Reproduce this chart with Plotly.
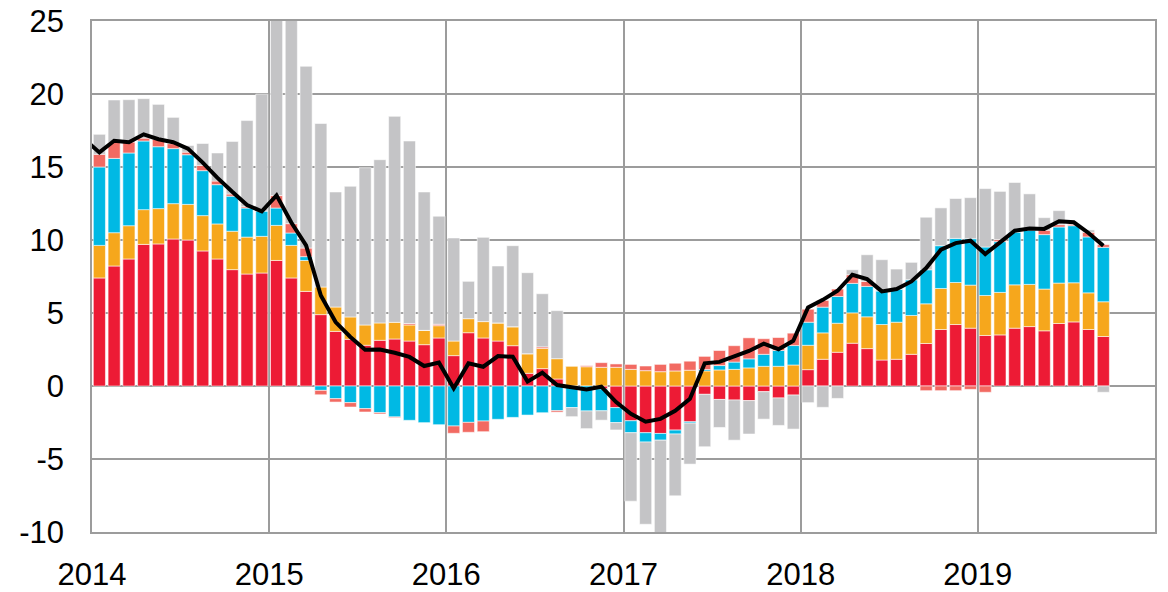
import plotly.graph_objects as go

years = ["2014", "2015", "2016", "2017", "2018", "2019"]

red = [7.4, 8.22, 8.7, 9.7, 9.73, 10.07, 10.0, 9.25, 8.7, 7.97, 7.67, 7.74,
       8.6, 7.4, 6.48, 4.89, 3.74, 3.2, 2.79, 3.13, 3.22, 3.08, 2.83, 3.29,
       2.08, 3.65, 3.29, 3.08, 2.76, 0.87, 1.19, 0.48, 0, 0, -0.2, -1.48,
       -2.38, -3.2, -3.25, -3.02, -2.45, -0.57, -0.92, -0.96, -1.0, -0.39, -0.82, -0.62,
       1.12, 1.83, 2.31, 2.93, 2.56, 1.78, 1.83, 2.17, 2.91, 3.87, 4.21, 3.96,
       3.46, 3.5, 3.96, 4.07, 3.78, 4.28, 4.39, 3.87, 3.39]

orange = [2.23, 2.28, 2.28, 2.38, 2.42, 2.42, 2.44, 2.42, 2.4, 2.63, 2.53, 2.51,
          2.4, 2.23, 2.12, 1.89, 1.67, 1.53, 1.39, 1.19, 1.14, 1.1, 0.98, 0.84,
          1.0, 0.96, 1.12, 1.24, 1.3, 1.34, 1.39, 1.39, 1.37, 1.32, 1.28, 1.28,
          1.14, 1.05, 0.98, 1.03, 1.08, 1.03, 1.1, 1.14, 1.24, 1.35, 1.35, 1.44,
          1.67, 1.81, 1.99, 2.08, 2.18, 2.43, 2.54, 2.66, 2.72, 2.81, 2.88, 2.95,
          2.74, 2.91, 2.97, 2.89, 2.86, 2.77, 2.68, 2.51, 2.38]

cyan = [5.37, 5.09, 4.98, 4.7, 4.24, 3.77, 3.4, 3.08, 2.69, 2.4, 1.99, 1.74,
        1.19, 0.85, 0.26, -0.3, -0.87, -1.14, -1.55, -1.83, -2.12, -2.35, -2.51, -2.65,
        -2.74, -2.49, -2.4, -2.28, -2.15, -1.99, -1.83, -1.69, -1.48, -1.71, -1.5, -1.03,
        -0.82, -0.64, -0.46, -0.27, -0.09, 0.1, 0.3, 0.5, 0.62, 0.82, 1.08, 1.33,
        1.58, 1.76, 1.83, 2.02, 2.08, 2.31, 2.27, 2.45, 2.33, 2.93, 3.02, 3.18,
        3.32, 3.48, 3.62, 3.7, 3.73, 3.84, 3.91, 3.83, 3.73]

salmon = [0.87, 1.1, 0.75, 0.2, 0.5, 0.34, 0.18, 0.36, 0.25, 0.15, 0.09, 0.0,
          0.85, 0.64, 0.59, -0.3, -0.23, -0.3, -0.23, -0.09, -0.05, 0.1, 0.0, 0.1,
          -0.5, -0.68, -0.73, 0.0, 0.0, 0.0, 0.1, -0.1, 0.0, 0.07, 0.32, 0.23,
          0.34, 0.32, 0.5, 0.53, 0.62, 0.9, 1.03, 1.12, 1.44, 1.07, 0.89, 0.85,
          0.89, 0.46, 0.51, 0.59, 0.34, 0.0, 0.0, 0.0, -0.32, -0.32, -0.32, -0.23,
          -0.43, 0.14, 0.0, 0.0, 0.3, 0.16, 0.11, 0.32, 0.18]

gray = [1.37, 2.9, 2.9, 2.7, 2.4, 1.8, 0.45, 1.5, 1.92, 3.6, 5.9, 8.0,
        13.0, 14.5, 12.45, 11.2, 7.88, 8.95, 10.77, 11.18, 14.11, 12.5, 9.48, 7.4,
        7.06, 2.56, 5.77, 3.9, 5.55, 5.55, 3.64, 3.29, -0.62, -1.21, -0.64, -0.5,
        -4.69, -5.63, -6.36, -4.23, -2.81, -3.59, -1.92, -2.75, -2.29, -1.88, -1.88, -2.33,
        -1.14, -1.46, -0.85, 0.34, 1.83, 2.13, 1.37, 1.19, 3.6, 2.59, 2.73, 2.81,
        4.0, 3.3, 3.39, 2.5, 0.86, 0.96, 0.0, 0.16, -0.43]

# total line; first value is December 2013 (partly outside the axis range)
total = [16.9,
         16.0, 16.8, 16.7, 17.24, 16.9, 16.7, 16.26, 15.3, 14.25, 13.3, 12.4, 11.96,
         13.06, 11.2, 9.63, 6.2, 4.38, 3.36, 2.49, 2.5, 2.28, 1.99, 1.37, 1.6,
         -0.16, 1.55, 1.32, 2.05, 2.0, 0.3, 0.91, 0.07, -0.09, -0.23, -0.05, -1.1,
         -1.9, -2.45, -2.25, -1.7, -0.87, 1.55, 1.65, 2.0, 2.4, 2.9, 2.52, 3.1,
         5.38, 5.9, 6.52, 7.62, 7.32, 6.48, 6.64, 7.16, 8.08, 9.34, 9.79, 9.95,
         9.04, 9.84, 10.64, 10.78, 10.76, 11.28, 11.21, 10.48, 9.61]

n = len(red)
xb = [i + 0.5 for i in range(n)]
xl = [i - 0.5 for i in range(len(total))]

series = [
    (red, "#ED1B35"),
    (orange, "#F6A71C"),
    (cyan, "#00B9E4"),
    (salmon, "#F26A62"),
    (gray, "#C4C4C6"),
]

fig = go.Figure()
for vals, col in series:
    fig.add_trace(go.Bar(
        x=xb, y=vals, width=0.82,
        marker=dict(color=col, line=dict(color="rgba(255,255,255,0.55)", width=1)),
        showlegend=False, hoverinfo="y",
    ))

fig.add_trace(go.Scatter(
    x=xl, y=total, mode="lines",
    line=dict(color="black", width=4),
    showlegend=False,
))

grid = "#9C9C9C"
font = dict(family="Arial, Liberation Sans, sans-serif", size=31, color="black")

fig.update_layout(
    width=1168, height=592,
    margin=dict(l=92, r=13, t=21, b=60),
    barmode="relative",
    plot_bgcolor="white", paper_bgcolor="white",
    font=font,
    xaxis=dict(
        range=[0, 72],
        tickvals=[0, 12, 24, 36, 48, 60],
        ticktext=years,
        showgrid=True, gridcolor=grid, gridwidth=1.5,
        showline=True, linecolor=grid, linewidth=1.5, mirror=True,
        ticks="", zeroline=False, ticklabelstandoff=14,
        tickfont=font, automargin=False, ticklabeloverflow="allow",
    ),
    yaxis=dict(
        range=[-10, 25],
        tickvals=[-10, -5, 0, 5, 10, 15, 20, 25],
        ticktext=["-10", "-5", "0", "5", "10", "15", "20", "25"],
        showgrid=True, gridcolor=grid, gridwidth=1.5,
        showline=True, linecolor=grid, linewidth=1.5, mirror=True,
        ticks="", zeroline=False, ticklabelstandoff=20,
        tickfont=font, automargin=False, ticklabeloverflow="allow",
    ),
)

fig.write_html(
    "out.html",
    config={"displayModeBar": False},
    post_script="document.body.style.margin='0';document.body.style.overflow='hidden';",
)
